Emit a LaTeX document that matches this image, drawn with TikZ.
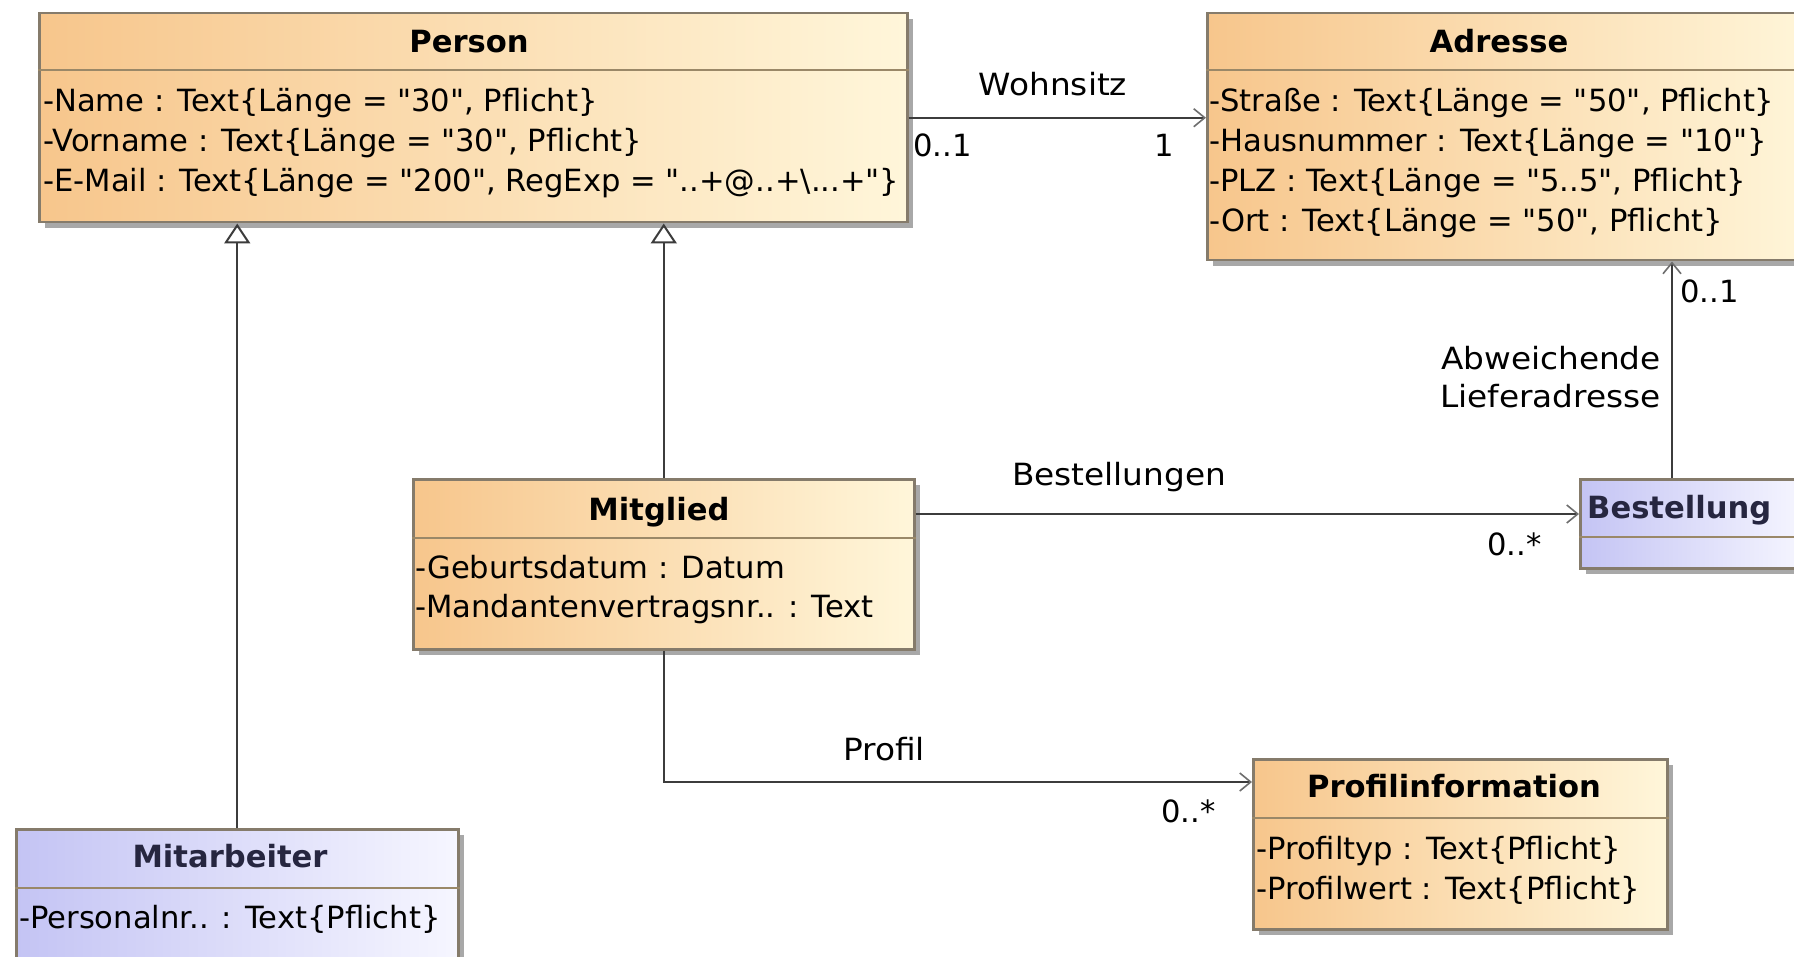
\documentclass[tikz,border=0pt]{standalone}
\usepackage{fontspec}
\setmainfont{DejaVu Sans}[Ligatures=TeXOff]
\usetikzlibrary{arrows.meta,shadows,calc}

\definecolor{orangeL}{HTML}{F7C68C}
\definecolor{orangeR}{HTML}{FFF6DA}
\definecolor{blueL}{HTML}{C4C4F4}
\definecolor{blueR}{HTML}{F6F6FF}
\definecolor{boxline}{HTML}{857B6B}
\definecolor{sepcol}{HTML}{9A8868}
\definecolor{wire}{HTML}{3C3C3C}
\definecolor{tipgray}{HTML}{6E6E6E}
\definecolor{navy}{HTML}{262640}
\definecolor{shadowgray}{HTML}{A8A8A8}

\newcommand{\umlsize}{\fontsize{30.6}{38}\selectfont}
\newcommand{\wideumlsize}{\umlsize\addfontfeature{FakeStretch=1.07}}

\begin{document}
\begin{tikzpicture}[x=1pt,y=-1pt,
  classbox/.style={draw=boxline, line width=2.5pt, anchor=north west, inner sep=0pt,
    drop shadow={shadow xshift=6pt, shadow yshift=-6pt, fill=shadowgray, opacity=1}},
  orangebox/.style={classbox, left color=orangeL, right color=orangeR},
  bluebox/.style={classbox, left color=blueL, right color=blueR},
  septline/.style={draw=sepcol, line width=2.5pt},
  title/.style={anchor=base, inner sep=0pt, font=\umlsize\bfseries},
  bluetitle/.style={title, text=navy},
  attr/.style={anchor=base west, inner sep=0pt, font=\umlsize},
  lbl/.style={inner sep=0pt, font=\umlsize},
  wordlbl/.style={inner sep=0pt, font=\wideumlsize},
  assoc/.style={draw=wire, line width=2pt,
    -{Straight Barb[length=11pt, width=18pt, line width=1.6pt, color=tipgray]}},
  gen/.style={draw=wire, line width=2.2pt,
    -{Triangle[open, length=20pt, width=26pt, line width=2pt]}}
]
\useasboundingbox (0,0) rectangle (1794,957);
\fill[white] (0,0) rectangle (1794,957);
\clip (0,0) rectangle (1794,957);

% ---------- class boxes ----------
\node[orangebox, minimum width=868pt, minimum height=209pt] (person) at (38,12) {};
\node[orangebox, minimum width=610pt, minimum height=247pt] (adresse) at (1206,12) {};
\node[orangebox, minimum width=501pt, minimum height=170pt] (mitglied) at (412,478) {};
\node[bluebox, minimum width=442pt, minimum height=150pt] (mitarbeiter) at (15,828) {};
\node[bluebox, minimum width=225pt, minimum height=89pt] (bestellung) at (1579,478) {};
\node[orangebox, minimum width=414pt, minimum height=170pt] (profil) at (1252,758) {};

% compartment separators
\draw[septline] ($(person.north west)+(0,58)$) -- ($(person.north east)+(0,58)$);
\draw[septline] ($(adresse.north west)+(0,58)$) -- ($(adresse.north east)+(0,58)$);
\draw[septline] ($(mitglied.north west)+(0,60)$) -- ($(mitglied.north east)+(0,60)$);
\draw[septline] ($(mitarbeiter.north west)+(0,60)$) -- ($(mitarbeiter.north east)+(0,60)$);
\draw[septline] ($(bestellung.north west)+(0,59)$) -- ($(bestellung.north east)+(0,59)$);
\draw[septline] ($(profil.north west)+(0,60)$) -- ($(profil.north east)+(0,60)$);

% ---------- class texts ----------
\node[title] (personT) at (469,53) {Person};
\node[attr] (personA1) at (43,112) {-Name : Text\{Länge = "30", Pflicht\}};
\node[attr] (personA2) at (43,152) {-Vorname : Text\{Länge = "30", Pflicht\}};
\node[attr] (personA3) at (43,192) {-E-Mail : Text\{Länge = "200", RegExp = "..+@..+\textbackslash...+"\}};

\node[title] (adresseT) at (1499,53) {Adresse};
\node[attr] (adresseA1) at (1209,112) {-Straße : Text\{Länge = "50", Pflicht\}};
\node[attr] (adresseA2) at (1209,152) {-Hausnummer : Text\{Länge = "10"\}};
\node[attr] (adresseA3) at (1209,192) {-PLZ : Text\{Länge = "5..5", Pflicht\}};
\node[attr] (adresseA4) at (1209,232) {-Ort : Text\{Länge = "50", Pflicht\}};

\node[title] (mitgliedT) at (659,520) {Mitglied};
\node[attr] (mitgliedA1) at (415,578) {-Geburtsdatum : Datum};
\node[attr] (mitgliedA2) at (415,617) {-Mandantenvertragsnr.. : Text};

\node[bluetitle] (mitarbeiterT) at (230,867) {Mitarbeiter};
\node[attr] (mitarbeiterA1) at (19,928) {-Personalnr.. : Text\{Pflicht\}};

\node[bluetitle, anchor=base west] (bestellungT) at (1587,518) {Bestellung};

\node[title] (profilT) at (1454,797) {Profilinformation};
\node[attr] (profilA1) at (1256,859) {-Profiltyp : Text\{Pflicht\}};
\node[attr] (profilA2) at (1256,899) {-Profilwert : Text\{Pflicht\}};

% ---------- connectors ----------
\coordinate (bestrow) at (0,514);
\coordinate (liefcol) at (1672,0);
\coordinate (profrow) at (0,782);

\draw[gen] (mitarbeiter.north) -- (mitarbeiter.north |- person.south);
\draw[gen] (mitglied.north) -- (mitglied.north |- person.south);

\draw[assoc] (person.east) -- (person.east -| adresse.west);
\draw[assoc] (mitglied.east |- bestrow) -- (bestellung.west |- bestrow);
\draw[assoc] (bestellung.north -| liefcol) -- (adresse.south -| liefcol);
\draw[assoc] (mitglied.south) |- (profil.west |- profrow);

% ---------- association labels ----------
\node[wordlbl, anchor=base] (wohnsitzL) at (1053,96) {Wohnsitz};
\node[lbl, anchor=base west] (wohnsitzM1) at (913,157) {0..1};
\node[lbl, anchor=base] (wohnsitzM2) at (1164,157) {1};

\node[wordlbl, anchor=base] (bestL) at (1119,485) {Bestellungen};
\node[lbl, anchor=base west] (bestM) at (1487,555) {0..*};

\node[wordlbl, anchor=base east] (liefL1) at (1661,370) {Abweichende};
\node[wordlbl, anchor=base east] (liefL2) at (1661,408) {Lieferadresse};
\node[lbl, anchor=base west] (liefM) at (1680,303) {0..1};

\node[wordlbl, anchor=base] (profilL) at (884,760) {Profil};
\node[lbl, anchor=base west] (profilM) at (1161,822) {0..*};
\end{tikzpicture}
\end{document}
